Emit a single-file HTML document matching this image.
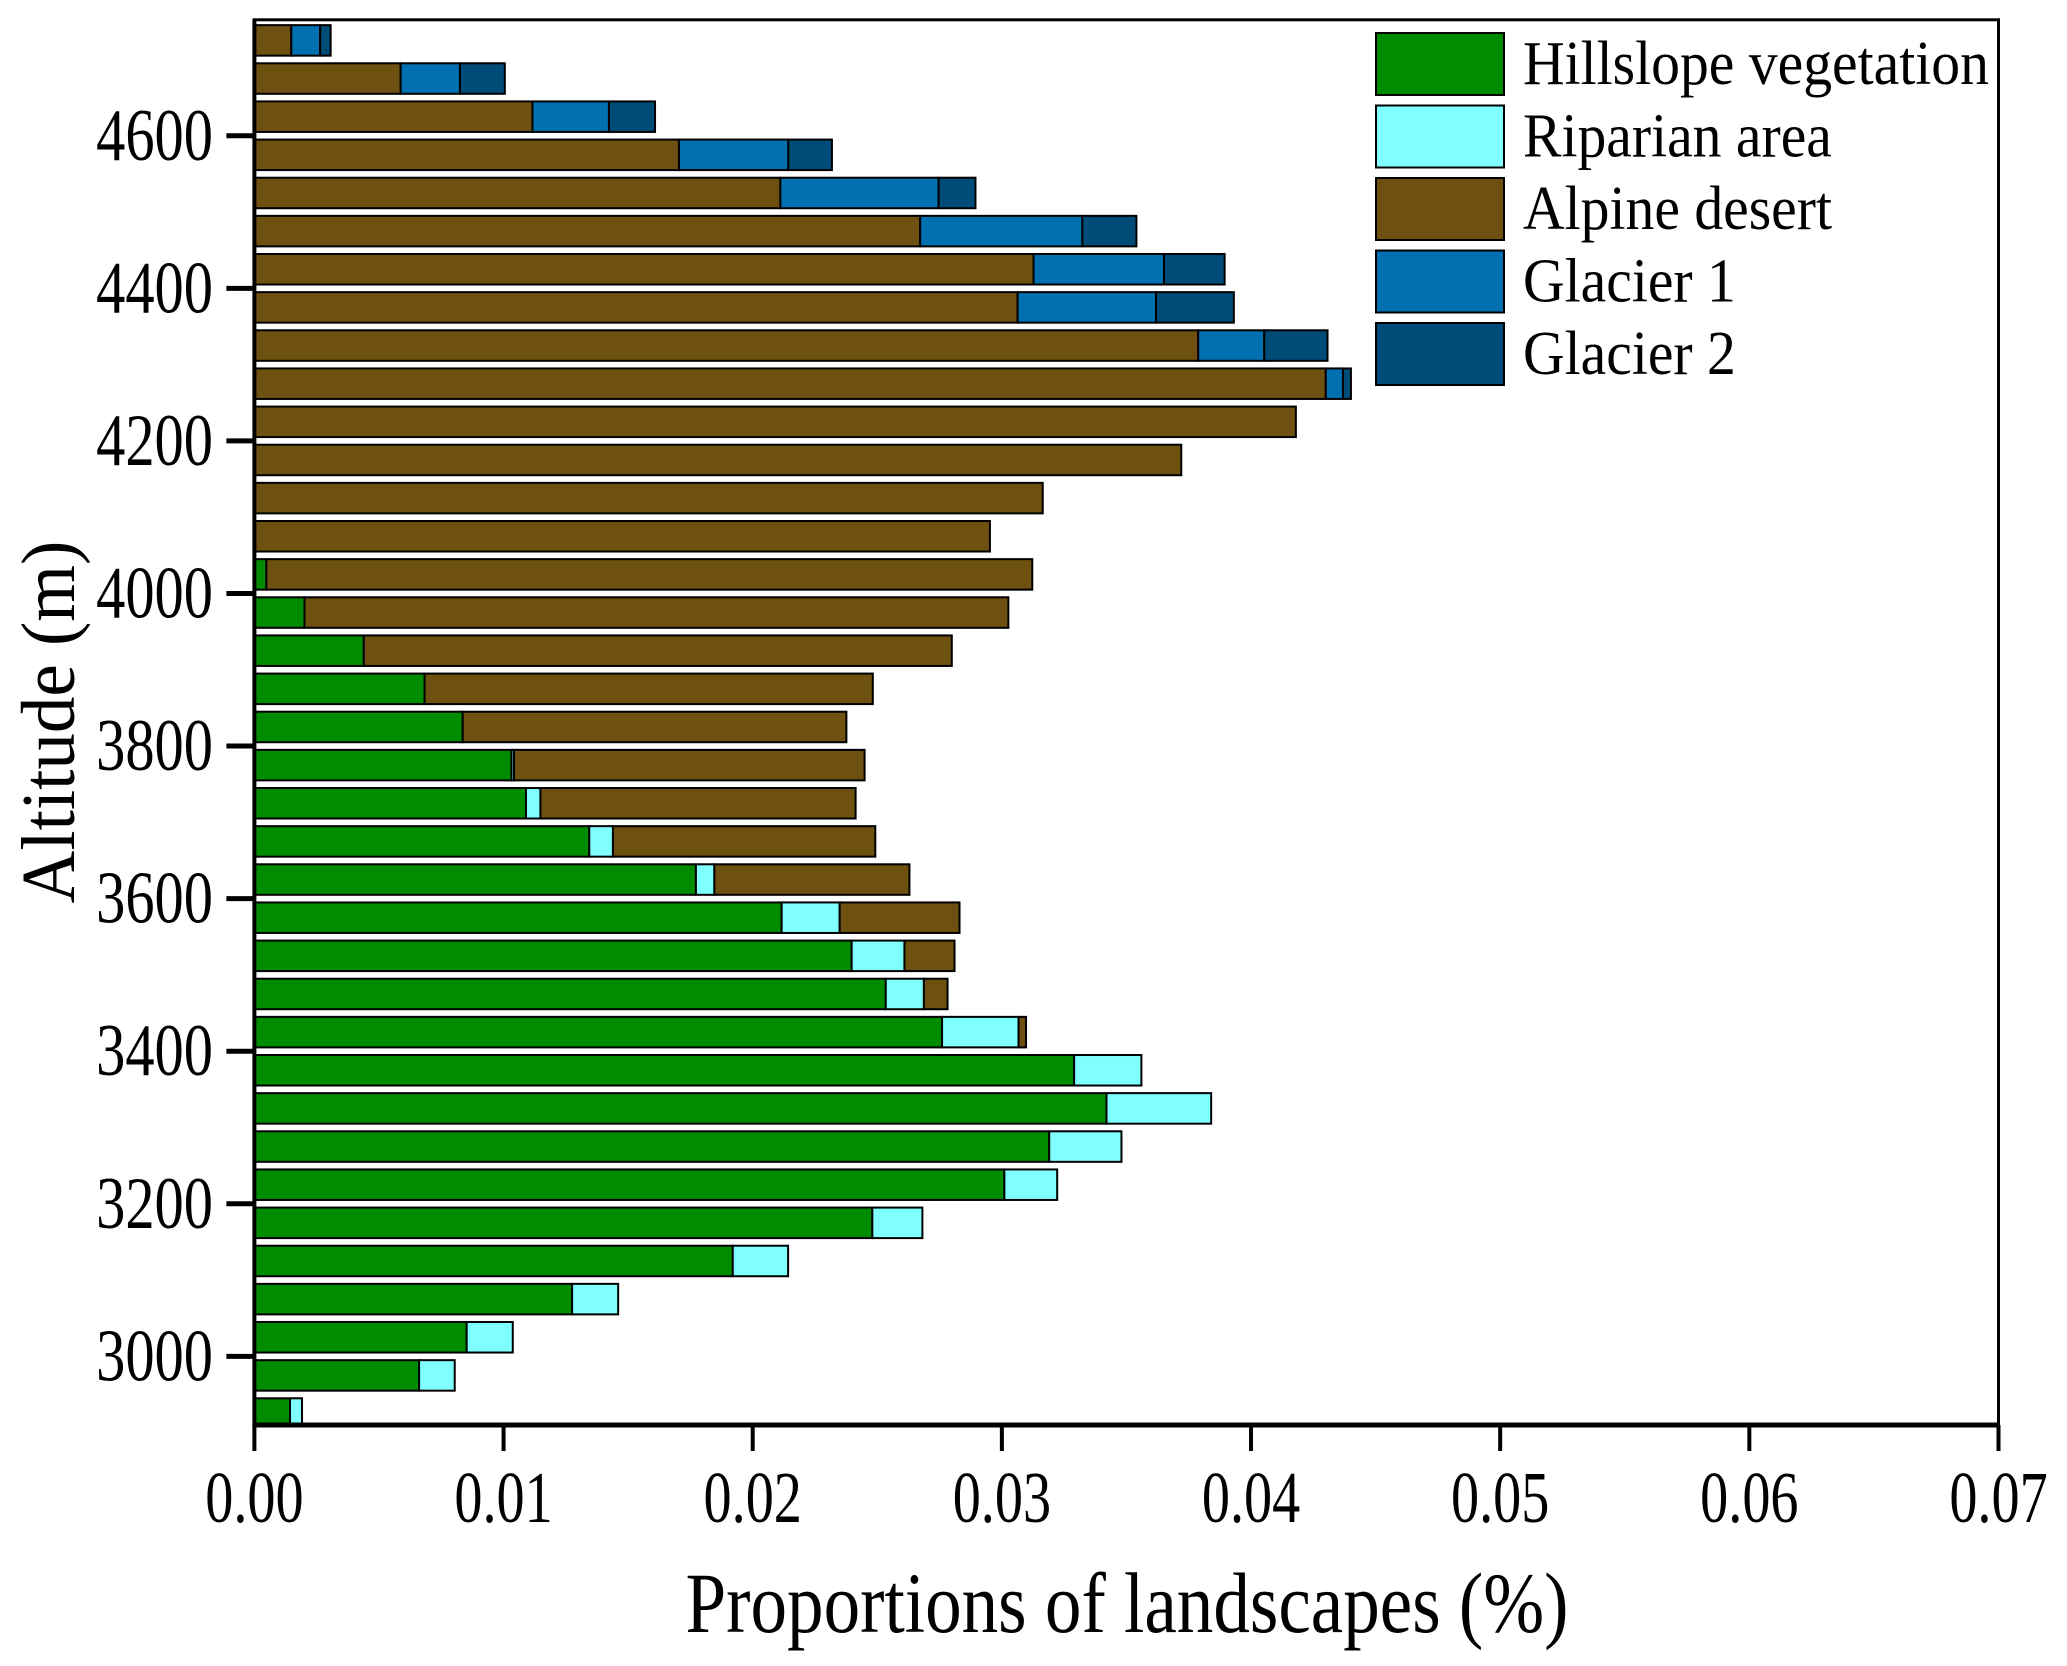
<!DOCTYPE html>
<html><head><meta charset="utf-8"><style>
html,body{margin:0;padding:0;background:#fff}
svg{display:block;font-family:"Liberation Serif",serif}
</style></head><body>
<svg id="chart" width="2067" height="1666" viewBox="0 0 2067 1666" xmlns="http://www.w3.org/2000/svg">
<g id="bars"></g>
<g id="axes"></g>
<g id="legend"></g>
</svg>
<script>
const altitudes = [2925,2975,3025,3075,3125,3175,3225,3275,3325,3375,3425,3475,3525,3575,3625,3675,3725,3775,3825,3875,3925,3975,4025,4075,4125,4175,4225,4275,4325,4375,4425,4475,4525,4575,4625,4675,4725];
const hillslope = [0.00143,0.00661,0.00852,0.01275,0.0192,0.0248,0.0301,0.0319,0.0342,0.0329,0.0276,0.02534,0.02397,0.02116,0.01772,0.01344,0.0109,0.01032,0.00836,0.00683,0.00439,0.00201,0.00048,0,0,0,0,0,0,0,0,0,0,0,0,0,0];
const riparian = [0.00048,0.00143,0.00185,0.00185,0.00222,0.00201,0.00212,0.0029,0.0042,0.0027,0.00307,0.00153,0.00212,0.00233,0.00074,0.00095,0.00058,0.0001,0,0,0,0,0,0,0,0,0,0,0,0,0,0,0,0,0,0,0];
const alpine = [0,0,0,0,0,0,0,0,0,0,0.0003,0.00095,0.00201,0.00481,0.00783,0.01053,0.01265,0.01407,0.0154,0.01799,0.0236,0.02825,0.03074,0.02952,0.03164,0.0372,0.0418,0.043,0.03788,0.03063,0.03127,0.02672,0.02111,0.01704,0.01116,0.00587,0.00148];
const glacier1 = [0,0,0,0,0,0,0,0,0,0,0,0,0,0,0,0,0,0,0,0,0,0,0,0,0,0,0,0.00069,0.00265,0.00556,0.00524,0.00651,0.00635,0.00439,0.00307,0.00238,0.00116];
const glacier2 = [0,0,0,0,0,0,0,0,0,0,0,0,0,0,0,0,0,0,0,0,0,0,0,0,0,0,0,0.00032,0.00254,0.00312,0.00243,0.00217,0.00148,0.00175,0.00185,0.0018,0.00042];
const seriesNames = ["Hillslope vegetation","Riparian area","Alpine desert","Glacier 1","Glacier 2"];
const xTicks = [0,0.01,0.02,0.03,0.04,0.05,0.06,0.07];
const xTickLabels = ["0.00","0.01","0.02","0.03","0.04","0.05","0.06","0.07"];
const yTicks = [3000,3200,3400,3600,3800,4000,4200,4400,4600];

const colors = ["#008C00","#80FFFF","#6E5010","#0070B0","#004C78"];
const NS="http://www.w3.org/2000/svg";
const L=254.4,R=1998.5,T=19.8,B=1425;
const yMin=2910, yMax=4752;
const X=v=>L+v/0.07*(R-L);
const Y=a=>B-(a-yMin)/(yMax-yMin)*(B-T);
function mk(tag,attrs,parent){const e=document.createElementNS(NS,tag);for(const k in attrs)e.setAttribute(k,attrs[k]);parent.appendChild(e);return e;}
const bars=document.getElementById('bars');
const axes=document.getElementById('axes');
const legend=document.getElementById('legend');
const series=[hillslope,riparian,alpine,glacier1,glacier2];
const clip=mk('clipPath',{id:'pc'},mk('defs',{},bars));
mk('rect',{x:L,y:T,width:R-L,height:B-T},clip);
const bg=mk('g',{'clip-path':'url(#pc)'},bars);
altitudes.forEach((a,i)=>{
  let cum=0;
  const y0=Y(a+20), h=Y(a-20)-Y(a+20);
  series.forEach((s,j)=>{
    const v=s[i]; if(v<=0) return;
    const r=mk('rect',{x:X(cum),y:y0,width:X(cum+v)-X(cum),height:h,fill:colors[j],stroke:'#000','stroke-width':2},bg);
    
    
    cum+=v;
  });
});
const fr=mk('rect',{x:L,y:T,width:R-L,height:B-T,fill:'none',stroke:'#000','stroke-width':3},axes);


mk('line',{x1:L-2,y1:B,x2:R+1,y2:B,stroke:'#000','stroke-width':5},axes);
mk('line',{x1:L,y1:T-1,x2:L,y2:B+2,stroke:'#000','stroke-width':4},axes);
xTicks.forEach((t,i)=>{
  mk('line',{x1:X(t),y1:B,x2:X(t),y2:B+26,stroke:'#000','stroke-width':4},axes);
  const tx=mk('text',{x:0,y:0,'font-size':73,'text-anchor':'middle',transform:`translate(${X(t)},1522) scale(0.77,1)`},axes);
  tx.textContent=xTickLabels[i];
  
  
});
yTicks.forEach(t=>{
  mk('line',{x1:L-28,y1:Y(t),x2:L,y2:Y(t),stroke:'#000','stroke-width':5},axes);
  const tx=mk('text',{x:0,y:0,'font-size':74,'text-anchor':'end',transform:`translate(213,${Y(t)+24}) scale(0.79,1)`},axes);
  tx.textContent=t;
  
  
});
const xt=mk('text',{x:0,y:0,'font-size':86,'text-anchor':'middle',transform:'translate(1127,1632) scale(0.85,1)'},axes);
xt.textContent='Proportions of landscapes (%)';


const yt=mk('text',{x:0,y:0,'font-size':76,'text-anchor':'middle',transform:'translate(74,722) rotate(-90) scale(0.96,1)'},axes);
yt.textContent='Altitude (m)';


seriesNames.forEach((n,j)=>{
  const top=33+j*72.5;
  const r=mk('rect',{x:1376,y:top,width:128,height:62,fill:colors[j],stroke:'#000','stroke-width':2},legend);
  
  
  const tx=mk('text',{x:0,y:0,'font-size':62,transform:`translate(1523,${top+51}) scale(0.93,1)`},legend);
  tx.textContent=n;
  
  
});
</script>
</body></html>
